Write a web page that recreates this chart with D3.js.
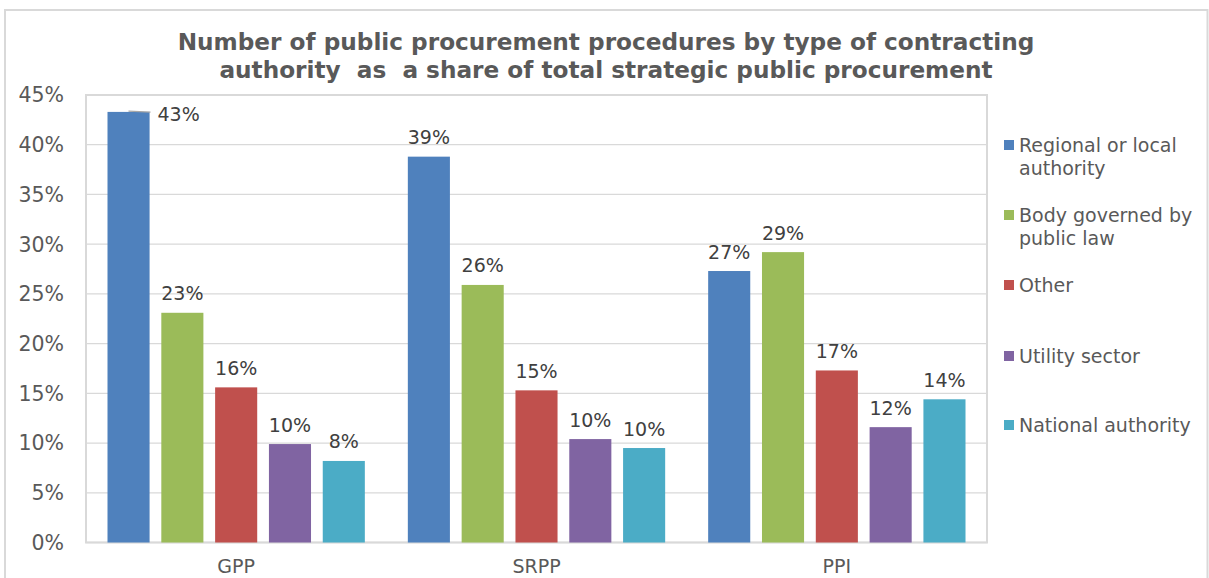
<!DOCTYPE html>
<html><head><meta charset="utf-8">
<script src="https://cdn.jsdelivr.net/npm/d3@7"></script>
<style>body{margin:0;background:#fff;} text{font-family:"DejaVu Sans",Verdana,sans-serif;}</style>
</head><body><svg id="c" width="1209" height="578"></svg>
<script>
const categories = ["GPP", "SRPP", "PPI"];
const seriesNames = ["Regional or local authority", "Body governed by public law", "Other", "Utility sector", "National authority"];
const regional = [43.3, 38.8, 27.3];
const body = [23.1, 25.9, 29.2];
const other = [15.6, 15.3, 17.3];
const utility = [9.9, 10.4, 11.6];
const national = [8.2, 9.5, 14.4];
const yTicks = [0, 5, 10, 15, 20, 25, 30, 35, 40, 45];
const colors = ["#4F81BD", "#9BBB59", "#C0504D", "#8064A2", "#4BACC6"];
const legendLines = [["Regional or local", "authority"], ["Body governed by", "public law"], ["Other"], ["Utility sector"], ["National authority"]];
const titleLines = ["Number of public procurement procedures by type of contracting", "authority  as  a share of total strategic public procurement"];

const seriesVals = [regional, body, other, utility, national];
const svg = d3.select("#c");
const L = 86, R = 987, T = 95, B = 542.5;

// outer border
svg.append("rect").attr("x", 5).attr("y", 10).attr("width", 1202.5).attr("height", 600)
  .attr("fill", "none").attr("stroke", "#d9d9d9").attr("stroke-width", 2);

const y = d3.scaleLinear().domain([0, 45]).range([B, T]);
const x0 = d3.scaleBand().domain(categories).range([L, R]);
const gw = x0.bandwidth();
const x1 = d3.scaleBand().domain(d3.range(5)).range([21.5, gw - 21.5]).paddingInner(0.218);

// grid
svg.append("g").selectAll("line").data(yTicks).join("line")
  .attr("x1", L).attr("x2", R).attr("y1", d => y(d)).attr("y2", d => y(d))
  .attr("stroke", "#d9d9d9").attr("stroke-width", 1.3);
// plot border
svg.append("rect").attr("x", L).attr("y", T).attr("width", R - L).attr("height", B - T)
  .attr("fill", "none").attr("stroke", "#d9d9d9").attr("stroke-width", 2);

// y labels
svg.append("g").selectAll("text").data(yTicks).join("text")
  .attr("x", 64).attr("y", d => y(d)).attr("dy", "0.36em").attr("text-anchor", "end")
  .attr("font-size", 20.5).attr("fill", "#595959").text(d => d + "%");

// bars
const g = svg.append("g");
categories.forEach((c, ci) => {
  seriesVals.forEach((vals, si) => {
    const v = vals[ci];
    const bx = x0(c) + x1(si);
    g.append("rect").attr("x", bx).attr("y", y(v)).attr("width", x1.bandwidth()).attr("height", B - y(v))
      .attr("fill", colors[si]);
    const lbl = Math.round(v) + "%";
    if (ci === 0 && si === 0) {
      svg.append("line").attr("x1", bx + 21).attr("x2", bx + 43).attr("y1", y(v) - 0.8).attr("y2", y(v) + 0.2)
        .attr("stroke", "#a6a6a6").attr("stroke-width", 1.2);
      svg.append("text").attr("x", bx + 50).attr("y", y(v) + 9.5).attr("font-size", 19).attr("fill", "#404040").text(lbl);
    } else {
      svg.append("text").attr("x", bx + x1.bandwidth() / 2).attr("y", y(v) - 12.5).attr("text-anchor", "middle")
        .attr("font-size", 19).attr("fill", "#404040").text(lbl);
    }
  });
});

// category labels
svg.append("g").selectAll("text").data(categories).join("text")
  .attr("x", d => x0(d) + gw / 2).attr("y", 572.5).attr("text-anchor", "middle")
  .attr("font-size", 19).attr("fill", "#595959").text(d => d);

// title
svg.append("g").selectAll("text").data(titleLines).join("text")
  .attr("x", 606).attr("y", (d, i) => 50 + i * 28).attr("text-anchor", "middle")
  .attr("font-size", 23.2).attr("font-weight", "bold").attr("fill", "#595959")
  .style("white-space", "pre").attr("xml:space", "preserve").text(d => d);

// legend
const ly = [145, 215, 285, 356, 425];
const lg = svg.append("g");
legendLines.forEach((lines, i) => {
  lg.append("rect").attr("x", 1004).attr("y", ly[i] - 5).attr("width", 10).attr("height", 10).attr("fill", colors[i]);
  lines.forEach((t, j) => {
    lg.append("text").attr("x", 1019).attr("y", ly[i] + j * 23).attr("dy", "0.36em")
      .attr("font-size", 19).attr("fill", "#595959").text(t);
  });
});
</script></body></html>
